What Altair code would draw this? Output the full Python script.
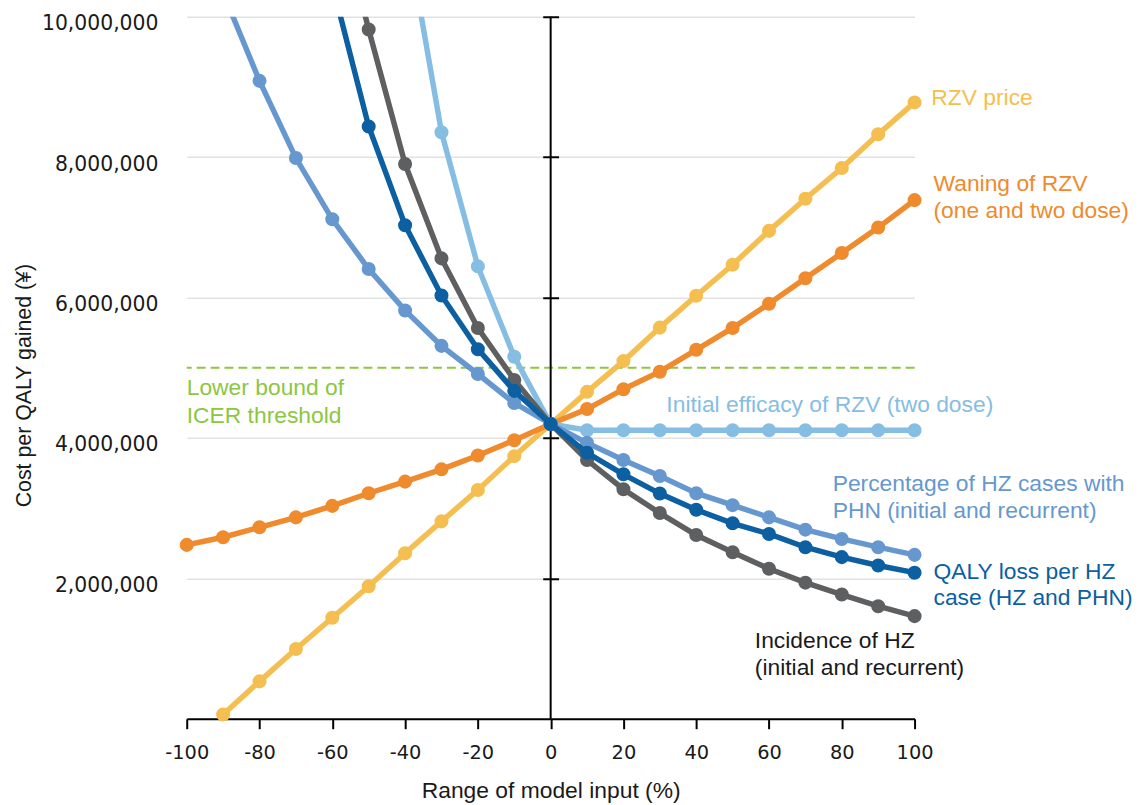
import altair as alt
import pandas as pd

# ---------------- data ----------------
x_pct = [-100, -90, -80, -70, -60, -50, -40, -30, -20, -10, 0,
         10, 20, 30, 40, 50, 60, 70, 80, 90, 100]

series_names = [
    "RZV price",
    "Waning of RZV (one and two dose)",
    "Initial efficacy of RZV (two dose)",
    "Incidence of HZ (initial and recurrent)",
    "Percentage of HZ cases with PHN (initial and recurrent)",
    "QALY loss per HZ case (HZ and PHN)",
]
series_colors = ["#F4BF50", "#EF8A2D", "#86BDE3", "#5E5F61", "#6698CF", "#0C5FA0"]

rzv_price = [None, 60000, 533000, 995000, 1439000, 1887000, 2359000, 2812000, 3260000, 3741000,
             4200000, 4657000, 5095000, 5572000, 6025000, 6468000, 6950000, 7407000, 7846000, 8327000, 8780000]
waning_rzv = [2477000, 2586000, 2727000, 2869000, 3033000, 3213000, 3378000, 3553000, 3751000, 3967000,
              4200000, 4412000, 4695000, 4944000, 5256000, 5567000, 5912000, 6275000, 6634000, 6997000, 7388000]
initial_efficacy = [None, None, None, None, None, None, 11330000, 8355000, 6444000, 5156000,
                    4200000, 4110000, 4110000, 4110000, 4110000, 4110000, 4110000, 4110000, 4110000, 4110000, 4110000]
incidence_hz = [None, None, None, None, 11850000, 9819000, 7902000, 6558000, 5567000, 4827000,
                4200000, 3685000, 3270000, 2930000, 2618000, 2373000, 2137000, 1939000, 1769000, 1604000, 1462000]
pct_phn = [None, 10340000, 9087000, 7987000, 7115000, 6407000, 5817000, 5312000, 4911000, 4497000,
           4200000, 3930000, 3685000, 3458000, 3213000, 3043000, 2869000, 2694000, 2562000, 2444000, 2335000]
qaly_loss = [None, None, None, None, 10460000, 8436000, 7030000, 6030000, 5265000, 4671000,
             4200000, 3789000, 3482000, 3208000, 2977000, 2784000, 2633000, 2444000, 2303000, 2184000, 2081000]

series_values = [rzv_price, waning_rzv, initial_efficacy, incidence_hz, pct_phn, qaly_loss]

threshold_value = [5000000]
threshold_color = "#8DC641"

y_ticks = [2000000, 4000000, 6000000, 8000000, 10000000]
x_ticks = [-100, -80, -60, -40, -20, 0, 20, 40, 60, 80, 100]

label_text = ["RZV price",
              "Waning of RZV", "(one and two dose)",
              "Lower bound of", "ICER threshold",
              "Initial efficacy of RZV (two dose)",
              "Percentage of HZ cases with", "PHN (initial and recurrent)",
              "QALY loss per HZ", "case (HZ and PHN)",
              "Incidence of HZ", "(initial and recurrent)"]
label_x = [104.6, 105.2, 105.2, -100.0, -100.0, 31.8, 77.5, 77.5, 105.2, 105.2, 56.1, 56.1]
label_y = [8747000, 7516000, 7134000, 4614000, 4218000, 4374000, 3241000, 2859000,
           1996000, 1614000, 1005000, 623000]
label_color = ["#F4BF50", "#EF8A2D", "#EF8A2D", threshold_color, threshold_color, "#86BDE3",
               "#6698CF", "#6698CF", "#0C5FA0", "#0C5FA0", "#1a1a1a", "#1a1a1a"]

# ---------------- tables ----------------
rows = []
for name, vals in zip(series_names, series_values):
    for p, v in zip(x_pct, vals):
        if v is not None:
            rows.append({"series": name, "pct": p, "value": v})
df = pd.DataFrame(rows)
labels_df = pd.DataFrame({"pct": label_x, "value": label_y, "text": label_text, "color": label_color})
thr_df = pd.DataFrame({"value": threshold_value})

W, H = 733, 707

xscale = alt.Scale(domain=[-100, 100], nice=False, zero=False)
yscale = alt.Scale(domain=[0, 10000000], nice=False, zero=False)

x_axis = alt.Axis(values=x_ticks, title="Range of model input (%)", domain=True, domainColor="black",
                  domainWidth=2, ticks=True, tickColor="black", tickWidth=2, tickSize=10,
                  labelExpr="'' + datum.value",
                  labelFont="DejaVu Sans", labelFontSize=19.5, labelColor="#1a1a1a", labelPadding=15,
                  labelFlush=False, grid=False, titleFont="Liberation Sans", titleFontSize=23,
                  titleFontWeight="normal", titleColor="#1a1a1a", titleY=79, titleBaseline="alphabetic")

y_axis_left = alt.Axis(values=y_ticks, format=",d", grid=True, gridColor="#E2E2E2", gridWidth=1.5,
                       domain=False, ticks=False, tickSize=0, labelPadding=29, labelFont="DejaVu Sans",
                       labelFontSize=20.5, labelColor="#1a1a1a", labelOffset=7, labelFlush=False,
                       title="Cost per QALY gained (¥)", titleFont="Liberation Sans",
                       titleFontSize=21.5, titleFontWeight="normal", titleColor="#1a1a1a",
                       titleX=-157, titleY=371, titleBaseline="alphabetic", orient="left")

y_axis_center = alt.Axis(values=y_ticks, orient="right", offset=-(W / 2 + 8), tickSize=16, tickWidth=2,
                         tickColor="black", domain=False, labels=False, grid=False, title=None)

X = alt.X("pct:Q", scale=xscale, axis=x_axis)
Y = alt.Y("value:Q", scale=yscale, axis=y_axis_left)

zero_rule = alt.Chart(pd.DataFrame({"z": [0]})).mark_rule(color="black", strokeWidth=2).encode(
    x=alt.X("z:Q", scale=xscale, axis=x_axis), y=alt.value(0), y2=alt.value(H))

series_layers = []
for name, col in zip(series_names, series_colors):
    sub = df[df["series"] == name]
    line = alt.Chart(sub).mark_line(color=col, strokeWidth=5.5, clip=True).encode(x=X, y=Y)
    pts = alt.Chart(sub).transform_filter(alt.datum.value <= 10000000).mark_circle(
        color=col, size=200, opacity=1).encode(x=X, y=Y)
    series_layers += [line, pts]

text_layer = alt.Chart(labels_df).mark_text(align="left", baseline="alphabetic",
                                            font="Liberation Sans", fontSize=23).encode(
    x=X, y=Y, text="text:N", color=alt.Color("color:N", scale=None))

layer_a = alt.layer(zero_rule, *series_layers, text_layer)

thr_layer = alt.Chart(thr_df).mark_rule(color=threshold_color, strokeWidth=2, strokeDash=[9, 5]).encode(
    y=alt.Y("value:Q", scale=yscale, axis=y_axis_center))

chart = alt.layer(thr_layer, layer_a).resolve_axis(y="independent").properties(
    width=W, height=H,
    autosize=alt.AutoSizeParams(type="none"),
    padding={"left": 180, "top": 6, "right": 222, "bottom": 82},
).configure_view(stroke=None)

chart.save("out.html", embed_options={"renderer": "svg", "actions": False})
